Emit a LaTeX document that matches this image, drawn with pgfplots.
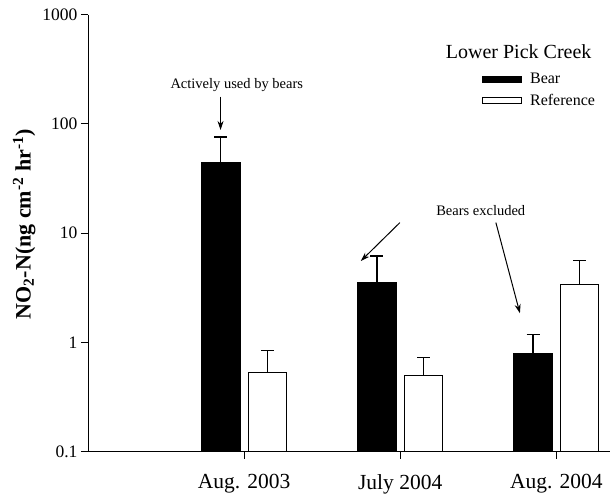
\documentclass[border=0pt]{standalone}
\usepackage{pgfplots}
\pgfplotsset{compat=1.18}
\usepackage{fontspec}
\setmainfont{Liberation Serif}
\usetikzlibrary{arrows.meta}
\begin{document}
\begin{tikzpicture}
\begin{axis}[
  scale only axis, width=522pt, height=437pt,
  ymode=log, log origin=infty,
  xmin=-1, xmax=2.344, ymin=0.1, ymax=1000,
  axis lines*=left, axis line style={line width=0.9pt},
  tick align=outside, major tick length=7pt,
  tick style={line width=0.9pt, black},
  xtick={0,1,2}, xticklabels={Aug. 2003,July 2004,Aug. 2004},
  xticklabel style={font=\fontsize{21.5}{25}\selectfont, yshift=-12pt},
  ytick={0.1,1,10,100,1000}, yticklabels={0.1,1,10,100,1000},
  yminorticks=false,
  yticklabel style={font=\fontsize{17.5}{20}\selectfont},
  ylabel={\textbf{NO\textsubscript{2}-N(ng cm\textsuperscript{-2} hr\textsuperscript{-1})}},
  ylabel style={font=\fontsize{22}{26}\selectfont, at={(ticklabel cs:0.525)}, xshift=-2pt},
  ybar, bar width=38.5pt,
  legend cell align=left,
  legend style={at={(rel axis cs:0.755,0.871)}, anchor=north west, draw=none, fill=none,
    font=\fontsize{16}{19}\selectfont, inner sep=0pt, row sep=5pt,
    nodes={inner sep=2pt},
    /tikz/every odd column/.append style={column sep=6pt}},
  legend image code/.code={\draw[#1, line width=0.8pt] (0pt,-3pt) rectangle (39pt,3pt);},
  error bars/y dir=plus, error bars/y explicit,
  error bars/error bar style={line width=1.3pt, black},
  error bars/error mark options={rotate=90, mark size=6.5pt, line width=1.3pt, black},
]
\addplot[fill=black, draw=black, line width=0.8pt, bar shift=-23.3pt]
  table[x=x, y=y, y error=e] {
x y e
0 44.6 31.4
1 3.52 2.66
2 0.795 0.395
};
\addlegendentry{Bear}
\addplot[fill=white, draw=black, line width=0.8pt, bar shift=23.3pt]
  table[x=x, y=y, y error=e] {
x y e
0 0.53 0.32
1 0.504 0.221
2 3.41 2.19
};
\addlegendentry{Reference}
\coordinate (O) at (rel axis cs:0,0);
\node[font=\fontsize{20}{24}\selectfont] at (axis cs:1.759,458) {Lower Pick Creek};
\node[font=\fontsize{14.5}{17}\selectfont] at (axis cs:-0.047,227) {Actively used by bears};
\draw[-{Stealth[length=9pt,width=6pt]}, line width=1pt] (axis cs:-0.151,177.6) -- (axis cs:-0.151,88);
\node[font=\fontsize{14.5}{17}\selectfont] at (axis cs:1.516,16.1) {Bears excluded};
\draw[-{Stealth[length=9pt,width=6pt]}, line width=1pt] (axis cs:0.998,12.5) -- (axis cs:0.748,5.57);
\draw[-{Stealth[length=9pt,width=6pt]}, line width=1pt] (axis cs:1.613,12.5) -- (axis cs:1.767,1.85);
\end{axis}
\pgfresetboundingbox
\path[use as bounding box] (O) ++(-88pt,-43.3pt) rectangle ++(611pt,495pt);
\end{tikzpicture}
\end{document}
